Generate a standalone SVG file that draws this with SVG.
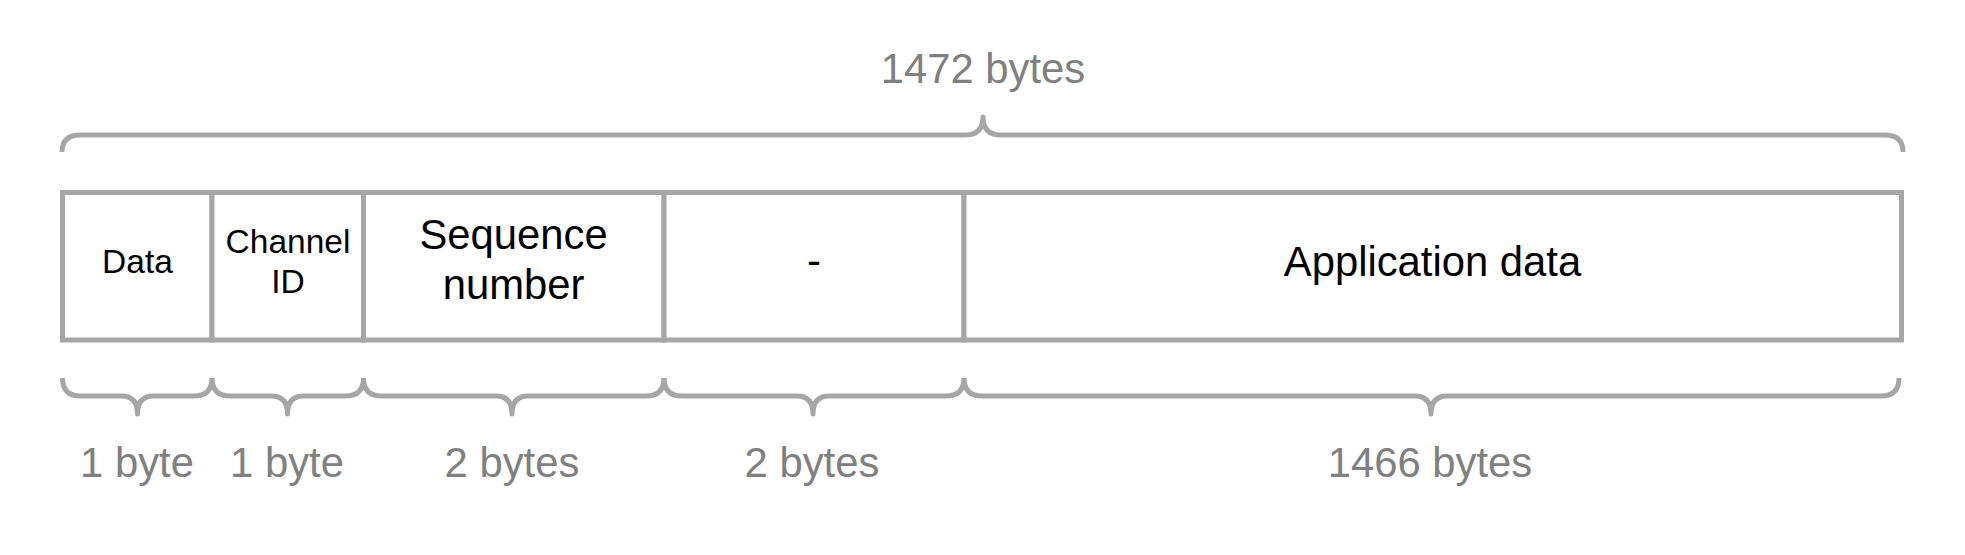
<svg xmlns="http://www.w3.org/2000/svg" width="1965" height="555" viewBox="0 0 1965 555">
  <style>
    .field { fill: #ffffff; stroke: #a6a6a6; stroke-width: 5; }
    .brace { fill: none; stroke: #a6a6a6; stroke-width: 5; stroke-linejoin: round; }
    .lbl { font-family: "Liberation Sans", Arial, sans-serif; fill: #000000; text-anchor: middle; }
    .size { font-family: "Liberation Sans", Arial, sans-serif; fill: #808080; font-size: 41.8px; text-anchor: middle; }
  </style>
  <rect width="1965" height="555" fill="#ffffff"/>

  <g id="total">
    <path class="brace" d="M62,152 Q62,135 80,135 L965,135 Q983,135 983,117 Q983,135 1001,135 L1885,135 Q1903,135 1903,152"/>
    <text class="size" x="983" y="83">1472 bytes</text>
  </g>

  <g id="field-data">
    <rect class="field" x="62.5" y="192.5" width="149.5" height="147.5"/>
    <text class="lbl" x="137.5" y="273" font-size="33.5">Data</text>
  </g>
  <g id="field-channel">
    <rect class="field" x="212" y="192.5" width="151.5" height="147.5"/>
    <text class="lbl" x="288" y="253" font-size="33.5">Channel</text>
    <text class="lbl" x="288" y="293" font-size="33.5">ID</text>
  </g>
  <g id="field-sequence">
    <rect class="field" x="363.5" y="192.5" width="300.5" height="147.5"/>
    <text class="lbl" x="513.5" y="249" font-size="41.8">Sequence</text>
    <text class="lbl" x="513.5" y="299" font-size="41.8">number</text>
  </g>
  <g id="field-reserved">
    <rect class="field" x="664" y="192.5" width="300" height="147.5"/>
    <text class="lbl" x="814" y="275" font-size="41.8">-</text>
  </g>
  <g id="field-app">
    <rect class="field" x="964" y="192.5" width="937.5" height="147.5"/>
    <text class="lbl" x="1432.5" y="276" font-size="41.8">Application data</text>
  </g>

  <g id="connectors">
    <path class="brace" d="M62.5,378 Q62.5,396 80.5,396 L121.5,396 Q137.5,396 137.5,414 Q137.5,396 153.5,396 L194,396 Q212,396 212,378"/>
    <path class="brace" d="M212,378 Q212,396 230,396 L271.5,396 Q287.5,396 287.5,414 Q287.5,396 303.5,396 L345.5,396 Q363.5,396 363.5,378"/>
    <path class="brace" d="M363.5,378 Q363.5,396 381.5,396 L496,396 Q512,396 512,414 Q512,396 528,396 L646,396 Q664,396 664,378"/>
    <path class="brace" d="M664,378 Q664,396 682,396 L797,396 Q813,396 813,414 Q813,396 829,396 L946,396 Q964,396 964,378"/>
    <path class="brace" d="M964,378 Q964,396 982,396 L1415,396 Q1431,396 1431,414 Q1431,396 1447,396 L1881,396 Q1899,396 1899,378"/>
  </g>

  <g id="sizes">
    <text class="size" x="137" y="477">1 byte</text>
    <text class="size" x="287" y="477">1 byte</text>
    <text class="size" x="512" y="477">2 bytes</text>
    <text class="size" x="812" y="477">2 bytes</text>
    <text class="size" x="1430" y="477">1466 bytes</text>
  </g>
</svg>
